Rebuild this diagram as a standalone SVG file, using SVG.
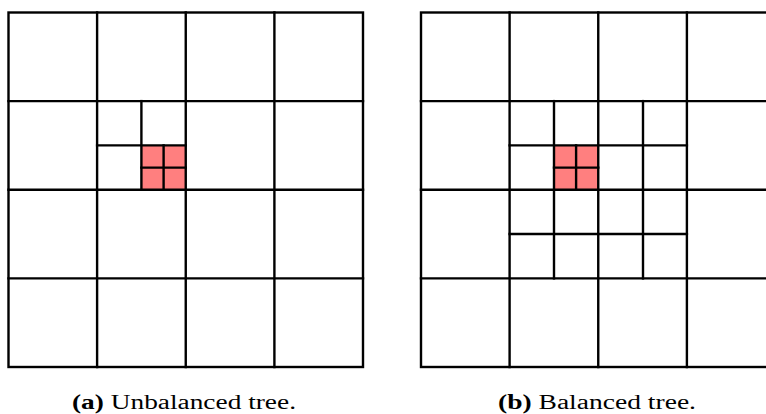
<svg xmlns="http://www.w3.org/2000/svg" width="766" height="414" viewBox="0 0 766 414">
<style>
.g line, .g rect.o { stroke: #000; stroke-width: 2.4; fill: none; stroke-linecap: square; }
.red { fill: #ff7f7f; stroke: none; }
.cap { font-family: "Liberation Serif", "DejaVu Serif", serif; font-size: 20px; fill: #000; }
.b { font-weight: bold; }
</style>
<rect width="766" height="414" fill="#fff"/>
<g id="unbalanced" class="g">
  <rect class="red" x="141.4" y="145.4" width="44.35" height="44.35"/>
  <rect class="o" x="8.5" y="12.5" width="354.5" height="354.5"/>
  <line x1="97.1" y1="12.5" x2="97.1" y2="367"/>
  <line x1="185.75" y1="12.5" x2="185.75" y2="367"/>
  <line x1="274.4" y1="12.5" x2="274.4" y2="367"/>
  <line x1="8.5" y1="101.1" x2="363" y2="101.1"/>
  <line x1="8.5" y1="189.75" x2="363" y2="189.75"/>
  <line x1="8.5" y1="278.4" x2="363" y2="278.4"/>
  <line x1="141.4" y1="101.1" x2="141.4" y2="189.75"/>
  <line x1="97.1" y1="145.4" x2="185.75" y2="145.4"/>
  <line x1="163.6" y1="145.4" x2="163.6" y2="189.75"/>
  <line x1="141.4" y1="167.6" x2="185.75" y2="167.6"/>
</g>
<g id="balanced" class="g">
  <rect class="red" x="554" y="145.4" width="44.25" height="44.35"/>
  <rect class="o" x="421" y="12.5" width="354.5" height="354.5"/>
  <line x1="509.6" y1="12.5" x2="509.6" y2="367"/>
  <line x1="598.25" y1="12.5" x2="598.25" y2="367"/>
  <line x1="686.9" y1="12.5" x2="686.9" y2="367"/>
  <line x1="421" y1="101.1" x2="775.5" y2="101.1"/>
  <line x1="421" y1="189.75" x2="775.5" y2="189.75"/>
  <line x1="421" y1="278.4" x2="775.5" y2="278.4"/>
  <line x1="554" y1="101.1" x2="554" y2="278.4"/>
  <line x1="643" y1="101.1" x2="643" y2="278.4"/>
  <line x1="509.6" y1="145.4" x2="686.9" y2="145.4"/>
  <line x1="509.6" y1="234" x2="686.9" y2="234"/>
  <line x1="576.1" y1="145.4" x2="576.1" y2="189.75"/>
  <line x1="554" y1="167.6" x2="598.25" y2="167.6"/>
</g>
<g id="captions">
  <text class="cap" x="72" y="409" textLength="224" lengthAdjust="spacingAndGlyphs"><tspan class="b">(a)</tspan> Unbalanced tree.</text>
  <text class="cap" x="498" y="409" textLength="198" lengthAdjust="spacingAndGlyphs"><tspan class="b">(b)</tspan> Balanced tree.</text>
</g>
</svg>
